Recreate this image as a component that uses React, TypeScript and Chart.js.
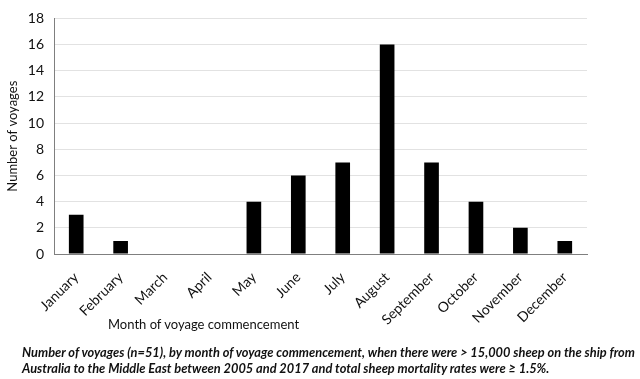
import React, { useEffect, useRef } from 'react';
import { Chart, registerables } from 'chart.js';

Chart.register(...registerables);

const months = ['January', 'February', 'March', 'April', 'May', 'June', 'July', 'August', 'September', 'October', 'November', 'December'];
const voyages = [3, 1, 0, 0, 4, 6, 7, 16, 7, 4, 2, 1];
const yMin = 0;
const yMax = 18;
const yStep = 2;
const yTitle = 'Number of voyages';
const xTitle = 'Month of voyage commencement';
const captionLines = [
  'Number of voyages (n=51), by month of voyage commencement, when there were > 15,000 sheep on the ship from',
  'Australia to the Middle East between 2005 and 2017 and total sheep mortality rates were \u2265 1.5%.',
];

const FONT = 'Lato, "Open Sans", sans-serif';

export default function App() {
  const ref = useRef<HTMLCanvasElement | null>(null);

  useEffect(() => {
    if (!ref.current) return;
    const chart = new Chart(ref.current, {
      type: 'bar',
      data: {
        labels: months,
        datasets: [
          {
            data: voyages,
            backgroundColor: '#000000',
            borderWidth: 0,
            barPercentage: 0.33,
            categoryPercentage: 1,
          },
        ],
      },
      options: {
        responsive: false,
        animation: false,
        layout: { padding: { left: 0, right: 53, top: 16, bottom: 0 } },
        plugins: { legend: { display: false }, tooltip: { enabled: false } },
        scales: {
          x: {
            grid: { display: false, drawTicks: false },
            border: { display: true, color: '#7f7f7f', width: 1 },
            ticks: {
              autoSkip: false,
              minRotation: 45,
              maxRotation: 45,
              color: '#111111',
              padding: 15,
              font: { family: FONT, size: 14 },
            },
            afterFit: (s: any) => {
              s.height = 125;
            },
          },
          y: {
            min: yMin,
            max: yMax,
            grid: { color: '#e2e2e2', drawTicks: false, lineWidth: 1 },
            border: { display: true, color: '#7f7f7f', width: 1 },
            ticks: {
              stepSize: yStep,
              color: '#111111',
              padding: 10,
              font: { family: FONT, size: 14 },
            },
            title: {
              display: true,
              text: yTitle,
              color: '#111111',
              font: { family: FONT, size: 13 },
              padding: { top: 5, bottom: 0 },
            },
            afterFit: (s: any) => {
              s.width = 54;
            },
          },
        },
      },
    });
    return () => chart.destroy();
  }, []);

  return (
    <div style={{ position: 'absolute', left: 0, top: 0, width: 640, height: 379, background: '#fff', overflow: 'hidden' }}>
      <canvas ref={ref} width={640} height={379} style={{ position: 'absolute', left: 0, top: 0 }} />
      <div
        style={{
          position: 'absolute',
          left: 108,
          top: 316,
          fontFamily: FONT,
          fontSize: 13,
          color: '#111111',
          whiteSpace: 'nowrap',
        }}
      >
        {xTitle}
      </div>
      <div
        style={{
          position: 'absolute',
          left: 22,
          top: 344,
          fontFamily: FONT,
          fontSize: 12.8,
          fontWeight: 700,
          fontStyle: 'italic',
          lineHeight: '16px',
          color: '#111111',
          whiteSpace: 'nowrap',
        }}
      >
        {captionLines.map((l, i) => (
          <div key={i}>{l}</div>
        ))}
      </div>
    </div>
  );
}
